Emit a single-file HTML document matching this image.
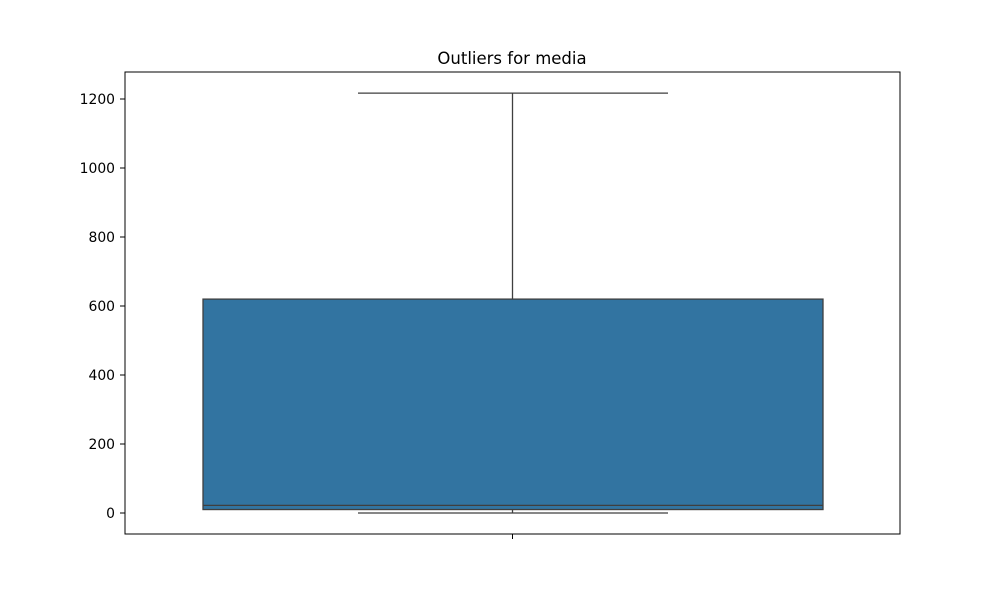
<!DOCTYPE html>
<html><head><meta charset="utf-8"><style>
body{margin:0;background:#fff;font-family:"DejaVu Sans","Liberation Sans",sans-serif}
svg text{font-family:"DejaVu Sans","Liberation Sans",sans-serif}
</style></head><body>
<svg id="chart" width="1000" height="600" xmlns="http://www.w3.org/2000/svg">
<rect width="1000" height="600" fill="#fff"/>
<text x="512" y="64" font-size="16.5" text-anchor="middle" fill="#000">Outliers for media</text>
<g id="yaxis"></g>
<g id="marks"></g>
<rect x="125" y="72" width="775" height="462" fill="none" stroke="#000" stroke-width="1"/>
<line x1="512.5" x2="512.5" y1="534" y2="539" stroke="#000"/>
</svg>
<script>
const yTicks=[0,200,400,600,800,1000,1200];
const boxMin=[0],boxQ1=[10],boxMedian=[22],boxQ3=[620],boxMax=[1217];
const NS="http://www.w3.org/2000/svg";
function y(v){return 513-v*0.345;}
const ya=document.getElementById('yaxis');
yTicks.forEach(t=>{
  const l=document.createElementNS(NS,'line');
  
  
  l.setAttribute('x1',120);l.setAttribute('x2',125);l.setAttribute('y1',y(t));l.setAttribute('y2',y(t));l.setAttribute('stroke','#000');
  ya.appendChild(l);
  const tx=document.createElementNS(NS,'text');
  
  
  tx.setAttribute('x',115);tx.setAttribute('y',y(t)+5);tx.setAttribute('text-anchor','end');tx.setAttribute('font-size','13.9');
  tx.textContent=t;ya.appendChild(tx);
});
const m=document.getElementById('marks');
function mk(tag,attrs,name){const e=document.createElementNS(NS,tag);for(const k in attrs)e.setAttribute(k,attrs[k]);


m.appendChild(e);}
const cx=512.5,bl=203,br=823,cl=358,cr=668,c='#3f3f3f';
mk('line',{x1:cx,x2:cx,y1:y(boxQ3[0]),y2:y(boxMax[0]),stroke:c,'stroke-width':1.3},'upper-whisker');
mk('line',{x1:cx,x2:cx,y1:y(boxQ1[0]),y2:y(boxMin[0]),stroke:c,'stroke-width':1.3},'lower-whisker');
mk('line',{x1:cl,x2:cr,y1:y(boxMax[0]),y2:y(boxMax[0]),stroke:c,'stroke-width':1.3},'max-cap');
mk('line',{x1:cl,x2:cr,y1:y(boxMin[0]),y2:y(boxMin[0]),stroke:c,'stroke-width':1.3},'min-cap');
mk('rect',{x:bl,y:y(boxQ3[0]),width:br-bl,height:y(boxQ1[0])-y(boxQ3[0]),fill:'#3274a1',stroke:c,'stroke-width':1.3},'iqr-box');
mk('line',{x1:bl,x2:br,y1:y(boxMedian[0]),y2:y(boxMedian[0]),stroke:c,'stroke-width':1.3},'median-line');
</script>
</body></html>
